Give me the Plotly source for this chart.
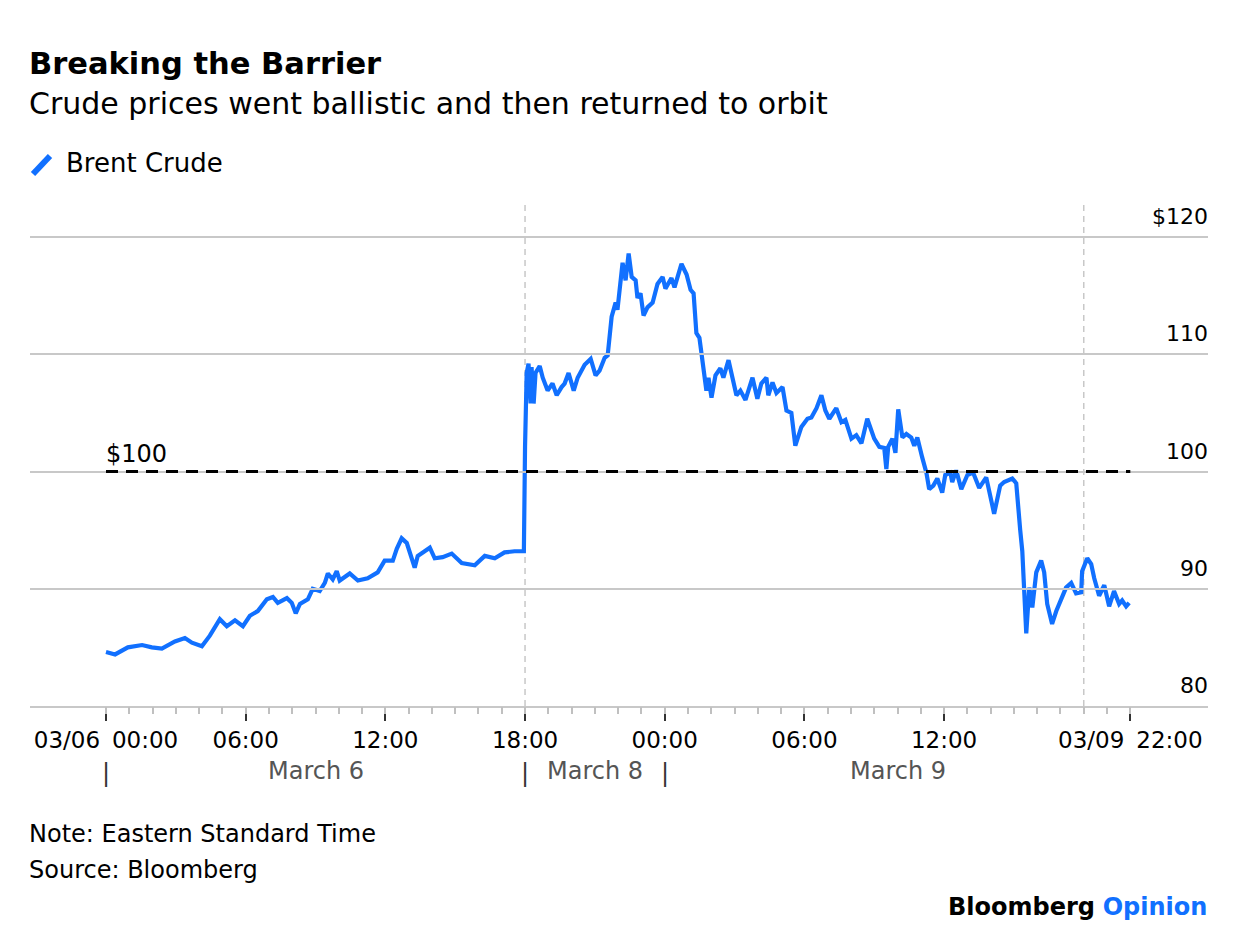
import plotly.graph_objects as go

# ---- data (hours since 03/06 00:00 on a gap-free trading-time axis, price in $) ----
hours = [0, 0.39, 0.94, 1.55, 1.97, 2.40, 2.96, 3.39, 3.69, 4.12, 4.46, 4.89, 5.19, 5.54, 5.88,
         6.18, 6.52, 6.91, 7.17, 7.38, 7.77, 7.98, 8.15, 8.33, 8.67, 8.88, 9.18, 9.40, 9.53, 9.74,
         9.91, 10.04, 10.47, 10.82, 11.24, 11.67, 11.97, 12.32, 12.49, 12.70, 12.92, 13.13, 13.26,
         13.39, 13.69, 13.91, 14.12, 14.46, 14.85, 15.28, 15.84, 16.27, 16.70, 17.12, 17.55, 17.90,
         17.95, 18.0, 18.07, 18.15, 18.24, 18.28, 18.37, 18.45, 18.63, 18.76, 18.97, 19.18, 19.36,
         19.57, 19.70, 19.87, 20.09, 20.26, 20.56, 20.82, 21.03, 21.20, 21.42, 21.55, 21.72, 21.89,
         21.97, 22.19, 22.32, 22.45, 22.58, 22.75, 22.83, 22.96, 23.09, 23.26, 23.48, 23.69, 23.91,
         24.03, 24.29, 24.42, 24.72, 24.94, 25.11, 25.24, 25.36, 25.49, 25.58, 25.79, 25.88, 26.01,
         26.18, 26.39, 26.52, 26.74, 26.91, 27.08, 27.25, 27.47, 27.77, 27.98, 28.15, 28.37, 28.45,
         28.63, 28.80, 29.06, 29.23, 29.44, 29.61, 29.87, 30.13, 30.30, 30.52, 30.73, 30.90, 31.07,
         31.37, 31.59, 31.76, 32.02, 32.23, 32.45, 32.70, 33.00, 33.22, 33.43, 33.52, 33.60, 33.78,
         33.91, 34.03, 34.21, 34.38, 34.59, 34.72, 34.85, 35.06, 35.24, 35.36, 35.54, 35.71, 35.92,
         36.05, 36.27, 36.35, 36.52, 36.74, 37.00, 37.25, 37.51, 37.81, 38.03, 38.15, 38.41, 38.58,
         38.93, 39.10, 39.27, 39.36, 39.53, 39.66, 39.79, 39.96, 40.17, 40.30, 40.43, 40.64, 40.82,
         41.03, 41.24, 41.46, 41.67, 41.89, 41.93, 42.15, 42.32, 42.45, 42.66, 42.88, 43.09, 43.30,
         43.52, 43.65, 43.82, 43.95]
brent = [84.6, 84.4, 85.0, 85.2, 85.0, 84.9, 85.5, 85.8, 85.4, 85.1, 86.0, 87.4, 86.8, 87.3, 86.8,
         87.7, 88.1, 89.1, 89.3, 88.8, 89.2, 88.8, 87.9, 88.7, 89.1, 90.0, 89.8, 90.5, 91.3, 90.8,
         91.5, 90.7, 91.3, 90.7, 90.9, 91.4, 92.4, 92.4, 93.4, 94.3, 93.9, 92.7, 91.8,
         92.8, 93.2, 93.5, 92.6, 92.7, 93.0, 92.2, 92.0, 92.8, 92.6, 93.1, 93.2, 93.2,
         93.2, 102.1, 108.4, 109.2, 105.8, 108.9, 105.8, 108.4, 109.0, 108.0, 106.9, 107.5, 106.5,
         107.2, 107.5, 108.4, 106.9, 108.0, 109.1, 109.6, 108.2, 108.6, 109.7, 109.9, 113.2, 114.4,
         113.8, 117.8, 116.3, 118.6, 116.6, 116.3, 114.8, 115.2, 113.3, 114.0, 114.4, 116.0, 116.6,
         115.6, 116.5, 115.7, 117.7, 116.8, 115.5, 115.2, 111.8, 111.4, 110.2, 106.9, 108.0, 106.3,
         108.2, 108.8, 108.0, 109.5, 108.0, 106.5, 106.9, 106.1, 108.0, 106.2, 107.5, 108.0, 106.5,
         107.6, 106.7, 107.2, 105.2, 105.0, 102.2, 103.8, 104.5, 104.6, 105.4, 106.5, 105.2, 104.5,
         105.4, 104.2, 104.4, 102.8, 103.1, 102.4, 104.5, 102.8, 102.1, 102.0, 100.2, 102.1, 102.8,
         101.6, 105.3, 102.9, 103.2, 102.9, 102.2, 102.9, 101.2, 99.9, 98.5, 98.8, 99.4, 98.2,
         99.7, 99.9, 99.1, 100.1, 98.5, 99.7, 99.9, 98.6, 99.5, 97.3, 96.4, 98.8, 99.1,
         99.4, 99.0, 95.0, 93.2, 86.2, 90.1, 88.4, 91.4, 92.4, 91.4, 88.7, 87.0, 88.1,
         89.2, 90.1, 90.5, 89.6, 89.7, 91.5, 92.6, 92.1, 90.9, 89.4, 90.3, 88.5, 89.8,
         88.7, 89.0, 88.5, 88.8]

tick_hours = [0, 6, 12, 18, 24, 30, 36, 44]
tick_text = ["03/06\u2009 00:00", "06:00", "12:00", "18:00", "00:00", "06:00", "12:00",
             "03/09\u2009 22:00"]
y_ticks = [80, 90, 100, 110, 120]
y_tick_text = ["80", "90", "100", "110", "$120"]
session_breaks = [18, 42]
session_seps = [0, 18, 24]
session_labels = ["March 6", "March 8", "March 9"]
session_centers = [9, 21, 34]
barrier = 100

BLUE = "#1170ff"
FONT = "DejaVu Sans"

# pixel geometry helpers (plot area 30..1208 x, 202..706 y)
L, R, T, B = 30, 1208, 202, 706
W, H = 1237, 950
PX_PER_HOUR = 23.28
PX_PER_DOLLAR = 11.725
def px(x):
    return (x - L) / (R - L)
def py(y):
    return (B - y) / (B - T)

x_range = [-(106 - L) / PX_PER_HOUR, (R - 106) / PX_PER_HOUR]

fig = go.Figure()
fig.add_trace(go.Scatter(x=hours, y=brent, mode="lines",
                         line=dict(color=BLUE, width=4.2), showlegend=False,
                         hoverinfo="skip"))
# helper trace for minor hourly ticks limited to data span
fig.add_trace(go.Scatter(x=[tick_hours[0], tick_hours[-1]], y=[None, None], xaxis="x2",
                         yaxis="y", showlegend=False, hoverinfo="skip", mode="lines"))

shapes = []
for sb in session_breaks:
    shapes.append(dict(type="line", xref="x", yref="paper", x0=sb, x1=sb, y0=0, y1=1,
                       line=dict(color="#c8c8c8", width=1.5, dash="6px,5px"), layer="below"))
shapes.append(dict(type="line", xref="x", yref="y", x0=tick_hours[0], x1=tick_hours[-1],
                   y0=barrier, y1=barrier, line=dict(color="black", width=3, dash="12px,8px")))
# legend slash
shapes.append(dict(type="line", xref="paper", yref="paper", x0=px(33), y0=py(174), x1=px(50), y1=py(156),
                   line=dict(color=BLUE, width=6)))

ann = []
ann.append(dict(text="<b>Breaking the Barrier</b>", x=px(27), y=py(63), xref="paper", yref="paper",
                xanchor="left", yanchor="middle", showarrow=False, font=dict(size=30.5, color="black")))
ann.append(dict(text="Crude prices went ballistic and then returned to orbit", x=px(27), y=py(103),
                xref="paper", yref="paper", xanchor="left", yanchor="middle", showarrow=False,
                font=dict(size=30, color="black")))
ann.append(dict(text="Brent Crude", x=px(64), y=py(163), xref="paper", yref="paper",
                xanchor="left", yanchor="middle", showarrow=False, font=dict(size=26, color="black")))
ann.append(dict(text="$100", x=tick_hours[0], y=barrier, xref="x", yref="y", xanchor="left",
                yanchor="bottom", showarrow=False, font=dict(size=24, color="black"), xshift=-2,
                yshift=2))
# right-side value labels sitting above their gridlines
for v, t in zip(y_ticks, y_tick_text):
    ann.append(dict(text=t, x=1, y=v, xref="paper", yref="y", xanchor="right", yanchor="bottom",
                    showarrow=False, font=dict(size=22, color="black"), xshift=2, yshift=6))
for s in session_seps:
    ann.append(dict(text="|", x=s, y=py(773), xref="x", yref="paper", xanchor="center",
                    yanchor="middle", showarrow=False, font=dict(size=24, color="#333")))
for lab, c in zip(session_labels, session_centers):
    ann.append(dict(text=lab, x=c, y=py(771), xref="x", yref="paper", xanchor="center",
                    yanchor="middle", showarrow=False, font=dict(size=24, color="#555")))
ann.append(dict(text="Note: Eastern Standard Time", x=px(27), y=py(834), xref="paper", yref="paper",
                xanchor="left", yanchor="middle", showarrow=False, font=dict(size=24, color="black")))
ann.append(dict(text="Source: Bloomberg", x=px(27), y=py(870), xref="paper", yref="paper",
                xanchor="left", yanchor="middle", showarrow=False, font=dict(size=24, color="black")))
ann.append(dict(text="<b>Bloomberg</b> <b><span style='color:%s'>Opinion</span></b>" % BLUE,
                x=px(1209), y=py(907), xref="paper", yref="paper", xanchor="right", yanchor="middle",
                showarrow=False, font=dict(size=24, color="black")))

fig.update_layout(
    width=W, height=H,
    margin=dict(l=L, r=W - R, t=T, b=H - B, pad=0),
    paper_bgcolor="white", plot_bgcolor="rgba(0,0,0,0)",
    font=dict(family=FONT, color="black", size=22),
    showlegend=False,
    shapes=shapes, annotations=ann,
    xaxis=dict(range=x_range, tickmode="array", tickvals=tick_hours, ticktext=tick_text,
               ticks="outside", ticklen=13, tickwidth=1.5, tickcolor="#333",
               showline=True, linecolor="#c8c8c8", linewidth=1.5,
               showgrid=False, zeroline=False, tickfont=dict(size=23, color="black")),
    xaxis2=dict(range=[tick_hours[0], tick_hours[-1]],
                domain=[px(106), px(106 + tick_hours[-1] * PX_PER_HOUR)],
                anchor="y", tickmode="linear", tick0=0, dtick=1, ticks="outside", ticklen=7,
                tickwidth=1.5, tickcolor="#c0c0c0", showticklabels=False, showgrid=False,
                zeroline=False, showline=False),
    yaxis=dict(range=[80, 80 + (B - T) / PX_PER_DOLLAR], side="right", tickmode="array",
               tickvals=y_ticks, showticklabels=False,
               showgrid=True, gridcolor="#c8c8c8", gridwidth=1.5, zeroline=False,
               showline=False, ticks=""),
)

fig.write_html("out.html", config={"displayModeBar": False},
               post_script="document.body.style.margin='0';")
